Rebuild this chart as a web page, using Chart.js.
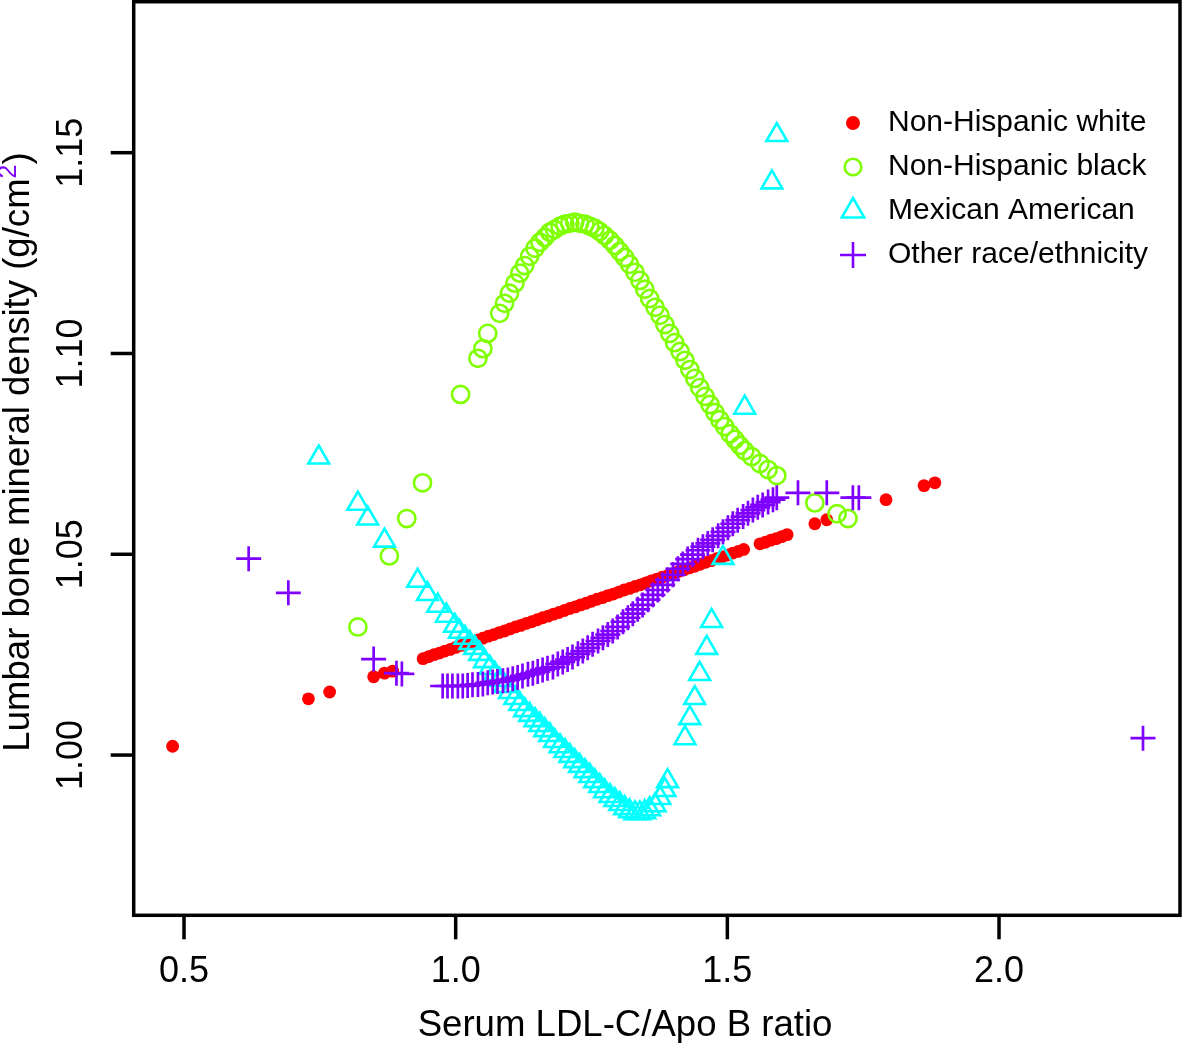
<!DOCTYPE html>
<html>
<head>
<meta charset="utf-8">
<script src="https://cdn.jsdelivr.net/npm/chart.js"></script>
<style>
  html, body { margin: 0; padding: 0; background: #fff; }
  canvas { display: block; }
</style>
</head>
<body>
<canvas id="grafico" width="1182" height="1043"></canvas>
<script>
// Series: [LDL-C/Apo B ratio, lumbar BMD]
const nonHispanicWhite = [
  [0.479, 1.0022], [0.729, 1.0140], [0.768, 1.0157], [0.849, 1.0195], [0.869, 1.0204], [0.884, 1.0209],
  [0.94, 1.0240], [0.95, 1.0245], [0.96, 1.0250], [0.97, 1.0254], [0.98, 1.0259], [0.99, 1.0263],
  [1.00, 1.0268], [1.01, 1.0273], [1.02, 1.0277], [1.03, 1.0282], [1.04, 1.0286], [1.05, 1.0291],
  [1.06, 1.0296], [1.07, 1.0300], [1.08, 1.0305], [1.09, 1.0309], [1.10, 1.0314], [1.11, 1.0319],
  [1.12, 1.0323], [1.13, 1.0328], [1.14, 1.0332], [1.15, 1.0337], [1.16, 1.0342], [1.17, 1.0346],
  [1.18, 1.0351], [1.19, 1.0355], [1.20, 1.0360], [1.21, 1.0365], [1.22, 1.0369], [1.23, 1.0374],
  [1.24, 1.0378], [1.25, 1.0383], [1.26, 1.0388], [1.27, 1.0392], [1.28, 1.0397], [1.29, 1.0401],
  [1.30, 1.0406], [1.31, 1.0411], [1.32, 1.0415], [1.33, 1.0420], [1.34, 1.0424], [1.35, 1.0429],
  [1.36, 1.0434], [1.37, 1.0438], [1.38, 1.0443], [1.39, 1.0447], [1.40, 1.0452], [1.41, 1.0457],
  [1.42, 1.0461], [1.43, 1.0466], [1.44, 1.0470], [1.45, 1.0475], [1.46, 1.0480], [1.47, 1.0484],
  [1.48, 1.0489], [1.49, 1.0493], [1.50, 1.0498], [1.51, 1.0503], [1.52, 1.0507], [1.53, 1.0512],
  [1.56, 1.0526], [1.57, 1.0530], [1.58, 1.0535], [1.59, 1.0539], [1.60, 1.0544], [1.61, 1.0549],
  [1.661, 1.0576], [1.683, 1.0586], [1.792, 1.0636], [1.862, 1.0671], [1.882, 1.0678]
];

const nonHispanicBlack = [
  [0.820, 1.0319], [0.878, 1.0496], [0.910, 1.0589], [0.939, 1.0678], [1.009, 1.0898], [1.041, 1.0988],
  [1.050, 1.1012], [1.059, 1.1050], [1.081, 1.1100], [1.090, 1.1125], [1.099, 1.1150], [1.109, 1.1175],
  [1.118, 1.1200], [1.127, 1.1219], [1.136, 1.1242], [1.146, 1.1262], [1.155, 1.1277], [1.164, 1.1289],
  [1.173, 1.1302], [1.182, 1.1309], [1.192, 1.1317], [1.201, 1.1322], [1.210, 1.1324], [1.219, 1.1327],
  [1.228, 1.1324], [1.238, 1.1322], [1.247, 1.1317], [1.256, 1.1312], [1.265, 1.1304], [1.274, 1.1294],
  [1.284, 1.1282], [1.293, 1.1269], [1.302, 1.1254], [1.311, 1.1239], [1.320, 1.1222], [1.330, 1.1202],
  [1.339, 1.1182], [1.348, 1.1160], [1.357, 1.1137], [1.367, 1.1115], [1.376, 1.1095], [1.385, 1.1072],
  [1.394, 1.1050], [1.403, 1.1027], [1.413, 1.1005], [1.422, 1.0983], [1.431, 1.0960], [1.440, 1.0938],
  [1.449, 1.0915], [1.459, 1.0893], [1.468, 1.0873], [1.477, 1.0853], [1.486, 1.0835], [1.495, 1.0818],
  [1.505, 1.0800], [1.514, 1.0786], [1.523, 1.0771], [1.532, 1.0758], [1.545, 1.0743], [1.560, 1.0726],
  [1.575, 1.0711], [1.591, 1.0696], [1.661, 1.0628], [1.702, 1.0601], [1.722, 1.0589]
];

const mexicanAmerican = [
  [0.748, 1.0741], [0.820, 1.0626], [0.838, 1.0589], [0.869, 1.0534], [0.930, 1.0434], [0.948, 1.0401],
  [0.967, 1.0372], [0.983, 1.0347], [0.998, 1.0322], [1.007, 1.0307], [1.017, 1.0292], [1.026, 1.0279],
  [1.035, 1.0267], [1.044, 1.0252], [1.053, 1.0234], [1.063, 1.0217], [1.072, 1.0202], [1.081, 1.0187],
  [1.090, 1.0172], [1.099, 1.0157], [1.109, 1.0142], [1.118, 1.0127], [1.127, 1.0112], [1.136, 1.0100],
  [1.146, 1.0087], [1.155, 1.0075], [1.164, 1.0062], [1.173, 1.0050], [1.182, 1.0035], [1.192, 1.0022],
  [1.201, 1.0010], [1.210, 0.9998], [1.219, 0.9985], [1.228, 0.9973], [1.238, 0.9960], [1.247, 0.9948],
  [1.256, 0.9935], [1.265, 0.9923], [1.274, 0.9910], [1.284, 0.9898], [1.293, 0.9888], [1.302, 0.9878],
  [1.311, 0.9868], [1.320, 0.9860], [1.330, 0.9855], [1.339, 0.9855], [1.348, 0.9858], [1.357, 0.9865],
  [1.367, 0.9875], [1.376, 0.9893], [1.385, 0.9913], [1.390, 0.9935],
  [1.422, 1.0042], [1.431, 1.0092], [1.440, 1.0142], [1.449, 1.0202], [1.462, 1.0267], [1.471, 1.0334],
  [1.492, 1.0491], [1.532, 1.0865], [1.582, 1.1426], [1.591, 1.1544]
];

const otherRace = [
  [0.619, 1.0489], [0.692, 1.0404], [0.849, 1.0239], [0.891, 1.0204], [0.901, 1.0202],
  [0.976, 1.0172], [0.985, 1.0172], [0.994, 1.0172], [1.004, 1.0172], [1.013, 1.0172], [1.022, 1.0173],
  [1.031, 1.0175], [1.041, 1.0176], [1.050, 1.0177], [1.059, 1.0180], [1.068, 1.0182], [1.077, 1.0183],
  [1.087, 1.0185], [1.096, 1.0187], [1.105, 1.0190], [1.114, 1.0193], [1.123, 1.0197], [1.133, 1.0201],
  [1.142, 1.0204], [1.151, 1.0208], [1.160, 1.0212], [1.169, 1.0216], [1.179, 1.0219], [1.188, 1.0227],
  [1.197, 1.0232], [1.206, 1.0238], [1.215, 1.0244], [1.225, 1.0252], [1.234, 1.0259], [1.243, 1.0267],
  [1.252, 1.0276], [1.262, 1.0284], [1.271, 1.0292], [1.280, 1.0300], [1.289, 1.0309], [1.298, 1.0319],
  [1.308, 1.0332], [1.317, 1.0342], [1.326, 1.0352], [1.335, 1.0363], [1.344, 1.0374], [1.354, 1.0387],
  [1.363, 1.0399], [1.372, 1.0411], [1.381, 1.0424], [1.390, 1.0436], [1.400, 1.0449], [1.409, 1.0464],
  [1.418, 1.0476], [1.427, 1.0488], [1.436, 1.0499], [1.446, 1.0510], [1.455, 1.0519], [1.464, 1.0527],
  [1.473, 1.0536], [1.483, 1.0546], [1.492, 1.0556], [1.501, 1.0566], [1.510, 1.0576], [1.519, 1.0585],
  [1.529, 1.0594], [1.538, 1.0602], [1.547, 1.0610], [1.556, 1.0617], [1.565, 1.0623], [1.575, 1.0630],
  [1.584, 1.0636], [1.591, 1.0641], [1.630, 1.0653], [1.683, 1.0653], [1.731, 1.0641], [1.742, 1.0641],
  [2.265, 1.0042]
];

const seriesNames = ['Non-Hispanic white', 'Non-Hispanic black', 'Mexican American', 'Other race/ethnicity'];
const xTicks = [0.5, 1.0, 1.5, 2.0];
const xTickLabels = ['0.5', '1.0', '1.5', '2.0'];
const yTicks = [1.00, 1.05, 1.10, 1.15];
const yTickLabels = ['1.00', '1.05', '1.10', '1.15'];

// rainbow(4) like in R
const cores = { white: '#ff0000', black: '#80ff00', mexican: '#00ffff', other: '#8000ff' };
const FONTE = "'Liberation Sans', Arial, Helvetica, sans-serif";

const toXY = arr => arr.map(p => ({ x: p[0], y: p[1] }));

// draws the legend symbols the same way the points look
function desenhaSimbolo(ctx, tipo, cx, cy) {
    ctx.save();
    ctx.lineWidth = 2.6;
    if (tipo === 0) {
        ctx.fillStyle = cores.white;
        ctx.beginPath(); ctx.arc(cx, cy, 7, 0, Math.PI * 2); ctx.fill();
    } else if (tipo === 1) {
        ctx.strokeStyle = cores.black;
        ctx.beginPath(); ctx.arc(cx, cy, 8.3, 0, Math.PI * 2); ctx.stroke();
    } else if (tipo === 2) {
        const r = 13;
        ctx.strokeStyle = cores.mexican;
        ctx.beginPath();
        ctx.moveTo(cx, cy - r);
        ctx.lineTo(cx + r * Math.sin(2 * Math.PI / 3), cy + r / 2);
        ctx.lineTo(cx - r * Math.sin(2 * Math.PI / 3), cy + r / 2);
        ctx.closePath(); ctx.stroke();
    } else {
        const r = 13;
        ctx.strokeStyle = cores.other;
        ctx.beginPath();
        ctx.moveTo(cx - r, cy); ctx.lineTo(cx + r, cy);
        ctx.moveTo(cx, cy - r); ctx.lineTo(cx, cy + r);
        ctx.stroke();
    }
    ctx.restore();
}

// box, ticks, labels, titles and legend in R base-graphics style
const eixosR = {
    id: 'eixosR',
    afterDraw(chart) {
        const { ctx, chartArea: a, scales: { x, y } } = chart;
        ctx.save();
        ctx.strokeStyle = '#000';
        ctx.fillStyle = '#000';
        ctx.lineWidth = 3.5;
        ctx.strokeRect(a.left, a.top, a.right - a.left, a.bottom - a.top);

        ctx.font = '36px ' + FONTE;
        ctx.textAlign = 'center';
        ctx.textBaseline = 'alphabetic';
        xTicks.forEach((v, i) => {
            const px = x.getPixelForValue(v);
            ctx.beginPath(); ctx.moveTo(px, a.bottom); ctx.lineTo(px, a.bottom + 24); ctx.stroke();
            ctx.fillText(xTickLabels[i], px, 982);
        });
        yTicks.forEach((v, i) => {
            const py = y.getPixelForValue(v);
            ctx.beginPath(); ctx.moveTo(a.left, py); ctx.lineTo(a.left - 23, py); ctx.stroke();
            ctx.save();
            ctx.translate(82, py);
            ctx.rotate(-Math.PI / 2);
            ctx.fillText(yTickLabels[i], 0, 0);
            ctx.restore();
        });

        // x title
        ctx.font = '36.6px ' + FONTE;
        ctx.fillText('Serum LDL-C/Apo B ratio', 625, 1036);

        // y title with the purple superscript
        const parte1 = 'Lumbar bone mineral density (g/cm';
        const sup = '2';
        const parte3 = ')';
        ctx.save();
        ctx.translate(29, 452);
        ctx.rotate(-Math.PI / 2);
        ctx.textAlign = 'left';
        ctx.font = '36.6px ' + FONTE;
        const w1 = ctx.measureText(parte1).width;
        const w3 = ctx.measureText(parte3).width;
        ctx.font = '25px ' + FONTE;
        const w2 = ctx.measureText(sup).width;
        let sx = -(w1 + w2 + w3) / 2;
        ctx.font = '36.6px ' + FONTE;
        ctx.fillText(parte1, sx, 0);
        sx += w1;
        ctx.font = '25px ' + FONTE;
        ctx.fillStyle = cores.other;
        ctx.fillText(sup, sx, -13);
        sx += w2;
        ctx.font = '36.6px ' + FONTE;
        ctx.fillStyle = '#000';
        ctx.fillText(parte3, sx, 0);
        ctx.restore();

        // legend
        ctx.font = '30px ' + FONTE;
        ctx.textAlign = 'left';
        seriesNames.forEach((nome, i) => {
            const cy = 123 + i * 44;
            desenhaSimbolo(ctx, i, 853, cy);
            ctx.fillStyle = '#000';
            ctx.fillText(nome, 888, cy + 8);
        });
        ctx.restore();
    }
};

const ctx = document.getElementById('grafico').getContext('2d');
const grafico = new Chart(ctx, {
    type: 'scatter',
    data: {
        datasets: [
            { label: seriesNames[0], data: toXY(nonHispanicWhite), order: 4,
              pointStyle: 'circle', pointRadius: 6.4, pointBorderWidth: 0,
              backgroundColor: cores.white, borderColor: cores.white },
            { label: seriesNames[1], data: toXY(nonHispanicBlack), order: 3,
              pointStyle: 'circle', pointRadius: 8.6, pointBorderWidth: 2.6,
              backgroundColor: 'rgba(0,0,0,0)', borderColor: cores.black },
            { label: seriesNames[2], data: toXY(mexicanAmerican), order: 2,
              pointStyle: 'triangle', pointRadius: 12, pointBorderWidth: 2.6,
              backgroundColor: 'rgba(0,0,0,0)', borderColor: cores.mexican },
            { label: seriesNames[3], data: toXY(otherRace), order: 1,
              pointStyle: 'cross', pointRadius: 12.5, pointBorderWidth: 2.7,
              backgroundColor: 'rgba(0,0,0,0)', borderColor: cores.other }
        ]
    },
    options: {
        responsive: false,
        animation: false,
        layout: { autoPadding: false, padding: { left: 133.7, right: 2, top: 1.7, bottom: 127.7 } },
        scales: {
            x: { type: 'linear', display: false, min: 0.4074, max: 2.3331 },
            y: { type: 'linear', display: false, min: 0.9601, max: 1.1876 }
        },
        plugins: { legend: { display: false }, tooltip: { enabled: false } }
    },
    plugins: [eixosR]
});
</script>
</body>
</html>
